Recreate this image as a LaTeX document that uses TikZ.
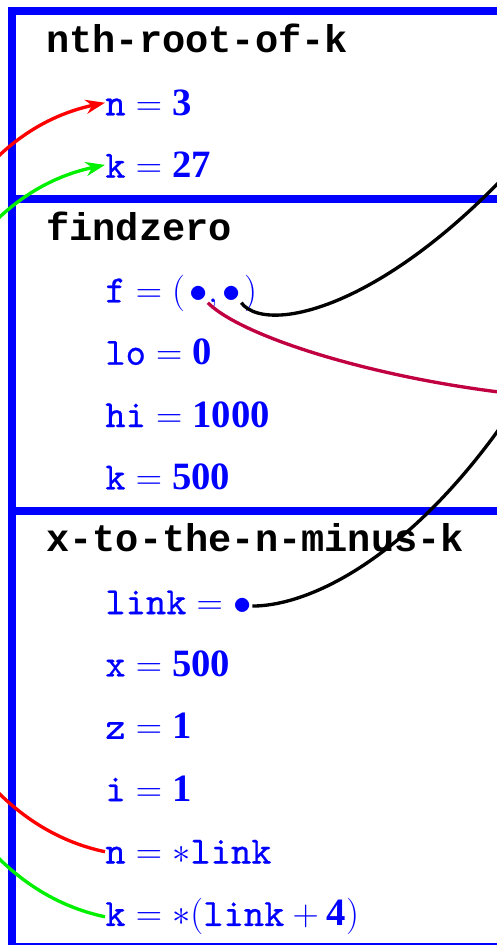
\documentclass[tikz,border=0pt]{standalone}
\usepackage{fontspec}
\setmainfont{Liberation Serif}
\setmonofont{lmmono10-regular.otf}[FakeBold=0.6]
\newfontfamily\headfont{Liberation Mono}
\usetikzlibrary{positioning,arrows.meta}
\definecolor{crimson}{RGB}{192,0,64}
\definecolor{lgreen}{RGB}{0,240,0}

\begin{document}
\begin{tikzpicture}[
    every node/.style={inner sep=0pt, anchor=base west, font=\fontsize{22}{26}\selectfont},
    frame/.style={draw=blue, line width=4.5pt},
    head/.style={font=\fontsize{22}{26}\selectfont\headfont\bfseries},
    var/.style={text=blue},
    link/.style={line width=1.9pt},
    tip/.style={-{Stealth[length=11pt, width=8pt, inset=3.5pt]}}
  ]
  \useasboundingbox (0,0) rectangle (9.92,18.9);
  % frames
  \draw[frame] (0.24,18.68) rectangle (12,14.92);
  \draw[frame] (0.24,14.92) rectangle (12,8.68);
  \draw[frame] (0.24,8.68) rectangle (12,-0.04);
  % nth-root-of-k
  \node[head] (h1) at (0.92,17.84) {nth-root-of-k};
  \node[var] (n3) at (2.1,16.593) {$\texttt{n} = \textbf{3}$};
  \node[var] (k27) at (2.1,15.346) {$\texttt{k} = \textbf{27}$};
  % findzero
  \node[head] (h2) at (0.92,14.099) {findzero};
  \node[var] (f) at (2.1,12.852) {$\texttt{f} = ($};
  \node[var, base right=2pt of f] (fa) {$\bullet$};
  \node[var, base right=0pt of fa] (fc) {$,$};
  \node[var, base right=2.2pt of fc] (fb) {$\bullet$};
  \node[var, base right=1.5pt of fb] (fe) {$)$};
  \node[var] (lo) at (2.1,11.605) {$\texttt{lo} = \textbf{0}$};
  \node[var] (hi) at (2.1,10.358) {$\texttt{hi} = \textbf{1000}$};
  \node[var] (k500) at (2.1,9.111) {$\texttt{k} = \textbf{500}$};
  % x-to-the-n-minus-k
  \node[head] (h3) at (0.92,7.864) {x-to-the-n-minus-k};
  \node[var] (link) at (2.1,6.617) {$\texttt{link} = {}$};
  \node[var, base right=0pt of link] (ldot) {$\bullet$};
  \node[var] (x) at (2.1,5.37) {$\texttt{x} = \textbf{500}$};
  \node[var] (z) at (2.1,4.123) {$\texttt{z} = \textbf{1}$};
  \node[var] (i) at (2.1,2.876) {$\texttt{i} = \textbf{1}$};
  \node[var] (nlink) at (2.1,1.629) {$\texttt{n} = \ast\texttt{link}$};
  \node[var] (klink) at (2.1,0.382) {$\texttt{k} = \ast(\texttt{link} + \textbf{4})$};
  % pointers leaving the picture
  \coordinate (heapA) at (12,17.7);
  \coordinate (heapB) at (12.4,10.9);
  \coordinate (heapC) at (12,13.9);
  \draw[link, red, tip] (nlink.west) to[out=168, in=192, looseness=1] (n3.west);
  \draw[link, lgreen, tip] (klink.west) to[out=168, in=192, looseness=1] (k27.west);
  \draw[link] (fb.south east) .. controls +(0.58,-0.76) and +(-3.4,-4.8) .. (heapA);
  \draw[link, crimson] (fa.south east) .. controls +(0.86,-0.86) and +(-3.4,0) .. (heapB);
  \draw[link] (ldot.east) .. controls +(1.54,0) and +(-2.4,-5.4) .. (heapC);
\end{tikzpicture}
\end{document}
